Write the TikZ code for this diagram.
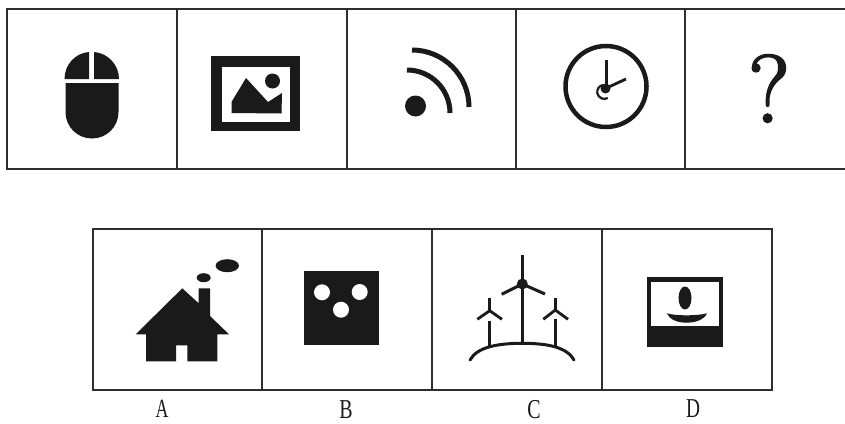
\documentclass[tikz,border=0pt]{standalone}
\usepackage{fontspec}
\setmainfont{Liberation Serif}
\newfontfamily\qfont[FakeBold=2.2]{Latin Modern Roman}
\definecolor{ink}{HTML}{1A1A1A}
\definecolor{rule}{HTML}{2E2E2E}
\tikzset{
  frame/.style={draw=rule,line width=2pt,line cap=butt},
  solid ink/.style={fill=ink,draw=none},
  white hole/.style={fill=white,draw=none},
  stroke/.style={draw=ink,line cap=butt},
  optlabel/.style={inner sep=0pt,text=ink,font=\fontsize{21}{21}\selectfont},
}
\begin{document}
\begin{tikzpicture}[x=1pt,y=-1pt]
\useasboundingbox (0,0) rectangle (845,423);
\fill[white] (0,0) rectangle (845,423);
% top row frame
\coordinate (tl) at (7,8.5); \coordinate (tr) at (845,8.5);
\coordinate (bl) at (7,168.5); \coordinate (br) at (845,168.5);
\draw[frame] (tr) -- (tl) -- (bl) -- (br);
\foreach \x in {176.5,346.5,515.5,685}{\draw[frame] (\x,8.5) -- (\x,168.5);}
% bottom row frame
\draw[frame] (92.5,229) rectangle (772,390);
\foreach \x in {262,432,602}{\draw[frame] (\x,229) -- (\x,390);}
% mouse
\fill[solid ink] (64.5,79) .. controls (64.5,65) and (75,53) .. (89,52) -- (89,79) -- cycle;
\fill[solid ink] (119,79) .. controls (119,65) and (108,53) .. (94,52) -- (94,79) -- cycle;
\fill[solid ink] (65.5,83) -- (118.5,83) -- (118.5,112) .. controls (118.5,127) and (106.5,138.5) .. (92,138.5) .. controls (77.5,138.5) and (65.5,127) .. (65.5,112) -- cycle;
% picture
\fill[solid ink] (211,56) rectangle (300,131);
\fill[white hole] (221.5,66.5) rectangle (290,121.5);
\fill[solid ink] (231.5,113) -- (231.5,102) -- (246,78) -- (268,102) -- (282,93) -- (281.5,113.5) -- cycle;
\fill[solid ink] (272.5,81) circle[radius=7.5];
% rss
\fill[solid ink] (415.5,106) circle[radius=10.5];
\draw[stroke,line width=5pt] (407,70) arc[start angle=90,end angle=0,x radius=43,y radius=-43];
\draw[stroke,line width=5pt] (412,50) arc[start angle=90,end angle=0,x radius=57,y radius=-57];
% clock
\draw[stroke,line width=4.5pt] (606,86.5) circle[radius=40.5];
\fill[solid ink] (605.5,88.5) circle[radius=5];
\draw[stroke,line width=2.8pt] (606.5,88.5) -- (606.5,60);
\draw[stroke,line width=2.8pt] (605.5,88.5) -- (626,79);
\draw[stroke,line width=2.2pt] (603,85) arc[start angle=100,end angle=300,x radius=7,y radius=-7];
% question mark
\node[inner sep=0pt,text=ink] (q) at (769,88.5) {\fontsize{96}{96}\qfont\selectfont ?};
% house
\fill[solid ink] (182.3,288.3) -- (198.7,303.3) -- (198.7,288.3) -- (210,288.3) -- (210,316) -- (229,334.3) -- (217.3,334.3) -- (217.3,361.3) -- (187.3,361.3) -- (187.3,345.3) -- (176,345.3) -- (176,361.3) -- (146,361.3) -- (146,334.3) -- (135.7,334.3) -- cycle;
\fill[solid ink] (203.7,277.7) ellipse[x radius=7,y radius=4.5];
\fill[solid ink] (227.3,265.7) ellipse[x radius=11.7,y radius=6.5];
% dice
\fill[solid ink] (303.7,271.3) rectangle (378.7,345.3);
\fill[white hole] (322,292.3) circle[radius=8];
\fill[white hole] (359.7,292) circle[radius=8];
\fill[white hole] (341,309.7) circle[radius=8];
% wind turbines
\draw[stroke,line width=3pt,line cap=round] (470,360) .. controls (477,347) and (498,343.3) .. (522.3,343.3) .. controls (547,343.3) and (567,347) .. (574,360);
\draw[stroke,line width=3pt] (522.3,255) -- (522.3,344);
\fill[solid ink] (522.3,284) circle[radius=5.5];
\draw[stroke,line width=3pt] (501.7,294.3) -- (522.3,284) -- (545,294);
\draw[stroke,line width=2.8pt] (489.7,297.7) -- (489.7,310.7);
\draw[stroke,line width=2.8pt] (477.3,319.3) -- (489.7,310.7) -- (502,319.3);
\draw[stroke,line width=3pt] (489.5,320.7) -- (489.5,347);
\draw[stroke,line width=2.8pt] (555.3,297.7) -- (555.3,310);
\draw[stroke,line width=2.8pt] (543.3,319.3) -- (555.3,310) -- (568,319.3);
\draw[stroke,line width=3pt] (555,319) -- (555,347);
% photo
\fill[solid ink] (647.3,277.3) rectangle (723.3,347.3);
\fill[white hole] (651.3,281.7) rectangle (719.3,326.3);
\fill[solid ink] (685,298) ellipse[x radius=6.5,y radius=11.5];
\fill[solid ink] (666.7,313.3) .. controls (676,316) and (697,316) .. (707,313.3) .. controls (704,320) and (695,322.7) .. (686.7,322.7) .. controls (678,322.7) and (670,320) .. (666.7,313.3) -- cycle;
% labels
\node[optlabel] (la) at (162,409) {\scalebox{0.85}[1.25]{A}};
\node[optlabel] (lb) at (346,409.5) {\scalebox{0.95}[1.3]{B}};
\node[optlabel] (lc) at (534,409.5) {\scalebox{0.95}[1.3]{C}};
\node[optlabel] (ld) at (693,409) {\scalebox{0.92}[1.3]{D}};
\end{tikzpicture}
\end{document}
